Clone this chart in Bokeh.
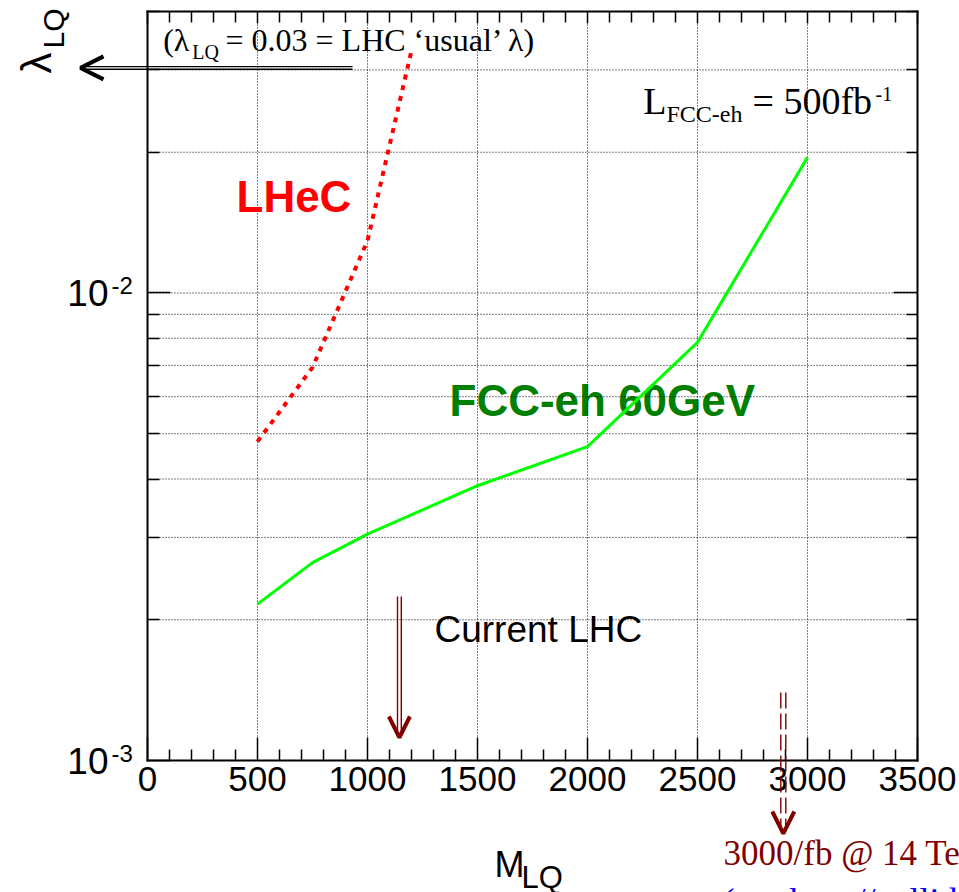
from math import log10, pi
from bokeh.plotting import figure
from bokeh.models import (Range1d, FixedTicker, LinearAxis, LogAxis, Label, Arrow,
                          OpenHead, CustomJSTickFormatter)
from bokeh.embed import file_html
from bokeh.resources import INLINE

# ---------------- data ----------------
lhec_mass = [500, 750, 1000, 1200]
lhec_lambda = [0.00481, 0.00693, 0.01294, 0.033]

fcc_mass = [500, 750, 1000, 1500, 2000, 2500, 3000]
fcc_lambda = [0.00216, 0.00265, 0.00305, 0.00387, 0.00469, 0.00784, 0.0195]

x_major_ticks = [0, 500, 1000, 1500, 2000, 2500, 3000, 3500]
x_minor_ticks = [m for m in range(100, 3500, 100) if m % 500 != 0]
y_major_ticks = [0.001, 0.01]
y_minor_ticks = [0.002, 0.003, 0.004, 0.005, 0.006, 0.007, 0.008, 0.009, 0.02, 0.03, 0.04]
y_major_exponents = ["-3", "-2"]

lambda_usual = 0.03        # LHC 'usual' lambda
lhc_current_mass = 1145    # current LHC reach
hl_lhc_mass = 2890         # 3000/fb @ 14 TeV reach

x_lim = (0, 3500)
y_lim = (0.001, 0.04)

# ---------------- geometry (pixels of the canvas) ----------------
W, H = 959, 892
BOX_L, BOX_R, BOX_T, BOX_B = 147, 917, 11, 760
L0, L1 = log10(y_lim[0]), log10(y_lim[1])
XPX = (BOX_R - BOX_L) / (x_lim[1] - x_lim[0])
DEC = (BOX_B - BOX_T) / (L1 - L0)
x_view = (x_lim[0] - BOX_L / XPX, x_lim[1] + (W - BOX_R) / XPX)
y_view = (10 ** (L0 - (H - BOX_B) / DEC), 10 ** (L1 + BOX_T / DEC))


def cx(px):
    """canvas pixel x -> data x"""
    return x_view[0] + px / XPX


def cy(py):
    """canvas pixel y -> data y (log axis)"""
    return 10 ** (L1 + (BOX_T - py) / DEC)


def px_of(x):
    return (x - x_view[0]) * XPX


def py_of(v):
    return BOX_T + (L1 - log10(v)) * DEC


SANS = "Liberation Sans"
SERIF = "Liberation Serif"
DARKRED = "#800000"
BASE_SHIFT = 0.34   # label anchor correction (fraction of font size)

p = figure(width=W, height=H, x_range=Range1d(*x_view), y_range=Range1d(*y_view),
           y_axis_type="log", output_backend="svg", toolbar_location=None, title=None,
           min_border=0)
p.background_fill_color = "white"
p.border_fill_color = "white"
p.outline_line_color = None
p.xgrid.visible = False
p.ygrid.visible = False

xt = FixedTicker(ticks=x_major_ticks, minor_ticks=x_minor_ticks)
yt = FixedTicker(ticks=y_major_ticks, minor_ticks=y_minor_ticks)

# ---------------- grid (dotted) ----------------
gx = x_major_ticks[1:-1]
p.segment(x0=gx, y0=[y_lim[0]] * len(gx), x1=gx, y1=[y_lim[1]] * len(gx),
          line_color="black", line_width=1, line_dash="1 2")
gy = sorted(y_major_ticks + y_minor_ticks)[1:-1]
p.segment(x0=[x_lim[0]] * len(gy), y0=gy, x1=[x_lim[1]] * len(gy), y1=gy,
          line_color="black", line_width=1, line_dash="1 2")


def style_axis(ax, major_in, minor_in):
    ax.major_tick_in, ax.major_tick_out = major_in, 0
    ax.minor_tick_in, ax.minor_tick_out = minor_in, 0
    ax.major_tick_line_width = 1.5
    ax.minor_tick_line_width = 1.5
    ax.axis_line_width = 2
    ax.axis_line_cap = "square"


xa = p.xaxis[0]
xa.ticker = xt
xa.fixed_location = y_lim[0]
xa.bounds = x_lim
style_axis(xa, 23, 11)
xa.major_label_text_font = SANS
xa.major_label_text_font_size = "35px"
xa.major_label_text_color = "black"
xa.major_label_standoff = 6

ya = p.yaxis[0]
ya.ticker = yt
ya.fixed_location = x_lim[0]
ya.bounds = y_lim
ya.formatter = CustomJSTickFormatter(code="return '10'")
style_axis(ya, 23, 12)
ya.major_label_text_font = SANS
ya.major_label_text_font_size = "37px"
ya.major_label_text_color = "black"
ya.major_label_standoff = 39

top = LinearAxis(ticker=xt, fixed_location=y_lim[1], bounds=x_lim,
                 major_label_text_font_size="0px", major_label_standoff=0,
                 formatter=CustomJSTickFormatter(code="return ''"))
style_axis(top, 12, 11)
p.add_layout(top, "above")
right = LogAxis(ticker=yt, fixed_location=x_lim[1], bounds=y_lim,
                major_label_text_font_size="0px", major_label_standoff=0,
                formatter=CustomJSTickFormatter(code="return ''"))
style_axis(right, 24, 11)
p.add_layout(right, "right")


# ---------------- text helper ----------------
def lab(px, py, text, size, font=SANS, color="black", style="normal", angle=0, level="annotation"):
    if angle == 0:
        x, y = cx(px), cy(py - BASE_SHIFT * size)
    else:
        x, y = cx(px - BASE_SHIFT * size), cy(py)
    p.add_layout(Label(x=x, y=y, text=text, text_font=font, text_font_size=f"{size}px",
                       text_color=color, text_font_style=style, text_baseline="alphabetic",
                       text_align="left", angle=angle, level=level))


# label drawn under the curves
lab(449, 415, "FCC-eh 60GeV", 44, color="#008000", style="bold", level="underlay")

# ---------------- curves ----------------
p.line(fcc_mass, fcc_lambda, line_color="#00ff00", line_width=3)
p.line(lhec_mass, lhec_lambda, line_color="#ff0000", line_width=4, line_dash="5 6")

# ---------------- text ----------------
lab(236, 211, "LHeC", 44, color="#ff0000", style="bold")
lab(434, 641.7, "Current LHC", 37)

lab(162.7, 50.7, "(λ", 32, font=SERIF)
lab(191.7, 58.3, "LQ", 20, font=SERIF)
lab(225, 50.7, "= 0.03 = LHC ‘usual’ λ)", 32, font=SERIF)

lab(642.7, 113.3, "L", 38, font=SERIF)
lab(666, 121.7, "FCC-eh", 24, font=SERIF)
lab(752, 113.3, "= 500fb", 38, font=SERIF)
lab(875, 100.7, "-1", 20, font=SERIF)

lab(723, 865, "3000/fb @ 14 TeV", 35, font=SERIF, color=DARKRED)
lab(722, 913, "(see http://collider-reach.web.cern.ch)", 36, font=SERIF, color="#0000ff")

# axis titles
lab(494, 876.7, "M", 36)
lab(521, 888, "LQ", 31)
lab(50, 73, "λ", 42, angle=pi / 2)
lab(63, 48, "LQ", 30, angle=pi / 2)

# exponents of the y tick labels
for t, e in zip(y_major_ticks, y_major_exponents):
    lab(111, py_of(t) + 1, e, 24)


# ---------------- arrows ----------------
def shaft(x0, y0, x1, y1, color, width=1.4, dash="solid"):
    p.add_layout(Arrow(end=None, x_start=x0, y_start=y0, x_end=x1, y_end=y1,
                       line_color=color, line_width=width, line_dash=dash))


def head(x0, y0, x1, y1, color, size=22):
    p.add_layout(Arrow(end=OpenHead(size=size, line_width=4, line_color=color),
                       x_start=x0, y_start=y0, x_end=x1, y_end=y1, line_alpha=0))


# lambda = 0.03 arrow pointing to the axis title
ly = py_of(lambda_usual) - 2
for d in (-1.3, 1.3):
    shaft(cx(352), cy(ly + d), cx(82), cy(ly + d), "black")
head(cx(120), cy(ly), cx(80), cy(ly), "black", size=23)

# current LHC arrow
lx = px_of(lhc_current_mass)
for d in (-1.9, 1.9):
    shaft(cx(lx + d), cy(596), cx(lx + d), cy(735), DARKRED)
head(cx(lx), cy(700), cx(lx), cy(737), DARKRED, size=21)

# HL-LHC arrow (dashed)
hx = px_of(hl_lhc_mass)
for d in (-2.5, 2.5):
    shaft(cx(hx + d), cy(692), cx(hx + d), cy(828), DARKRED, dash="16 5")
head(cx(hx), cy(800), cx(hx), cy(833), DARKRED, size=22)

open("out.html", "w").write(file_html(p, INLINE))
